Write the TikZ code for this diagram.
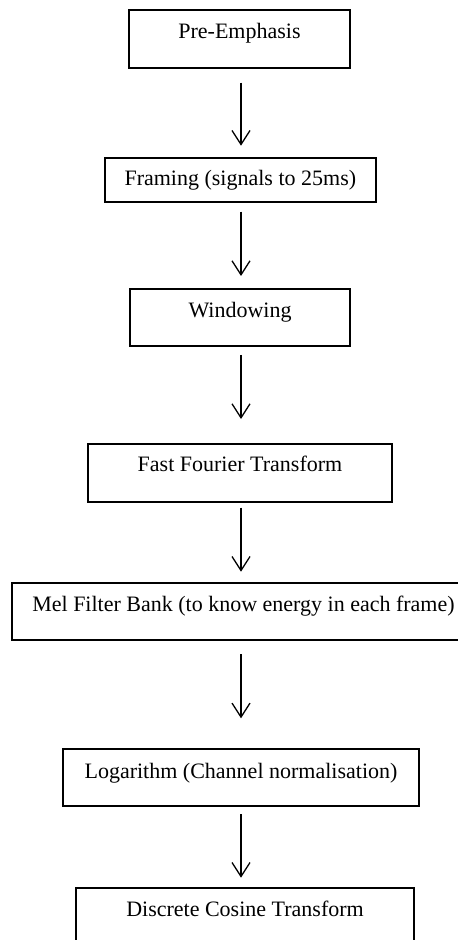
\documentclass[tikz,border=0pt]{standalone}
\usepackage{fontspec}
\setmainfont{Liberation Serif}
\usetikzlibrary{arrows.meta}
\tikzset{
  box/.style={draw, line width=0.9pt, inner sep=0pt, outer sep=0pt, anchor=north west,
    font=\fontsize{11}{13}\selectfont},
  arr/.style={line width=0.65pt, -{Straight Barb[length=7pt,width=9pt]}}
}
\begin{document}
\begin{tikzpicture}[x=0.5pt,y=-0.5pt]
\useasboundingbox (0,0) rectangle (458,940);
\node[box, minimum width=110.2pt, text height=14.65pt, text depth=14.35pt] (b1) at (129.3,9.7) {Pre-Emphasis};
\node[box, minimum width=135.65pt, text height=14.15pt, text depth=7.85pt] (b2) at (104.7,157.7) {Framing (signals to 25ms)};
\node[box, minimum width=109.7pt, text height=14pt, text depth=14.2pt] (b3) at (130.3,289.3) {Windowing};
\node[box, minimum width=151.7pt, text height=13.85pt, text depth=15pt] (b4) at (88.3,444) {Fast Fourier Transform};
\node[box, minimum width=231.8pt, text height=14.2pt, text depth=14.15pt] (b5) at (11.7,583.3) {Mel Filter Bank (to know energy in each frame)};
\node[box, minimum width=178.3pt, text height=14.65pt, text depth=13.7pt] (b6) at (62.7,749) {Logarithm (Channel normalisation)};
\node[box, minimum width=169pt, text height=14.5pt, text depth=15.5pt] (b7) at (76,887.7) {Discrete Cosine Transform};
\coordinate (col) at (241,0);
\draw[arr, shorten <=7.5pt, shorten >=6pt] (b1.south -| col) -- (b2.north -| col);
\draw[arr, shorten <=5pt, shorten >=6.65pt] (b2.south -| col) -- (b3.north -| col);
\draw[arr, shorten <=4.65pt, shorten >=12.5pt] (b3.south -| col) -- (b4.north -| col);
\draw[arr, shorten <=3pt, shorten >=5.8pt] (b4.south -| col) -- (b5.north -| col);
\draw[arr, shorten <=7.15pt, shorten >=15.35pt] (b5.south -| col) -- (b6.north -| col);
\draw[arr, shorten <=4.15pt, shorten >=5pt] (b6.south -| col) -- (b7.north -| col);
\end{tikzpicture}
\end{document}
